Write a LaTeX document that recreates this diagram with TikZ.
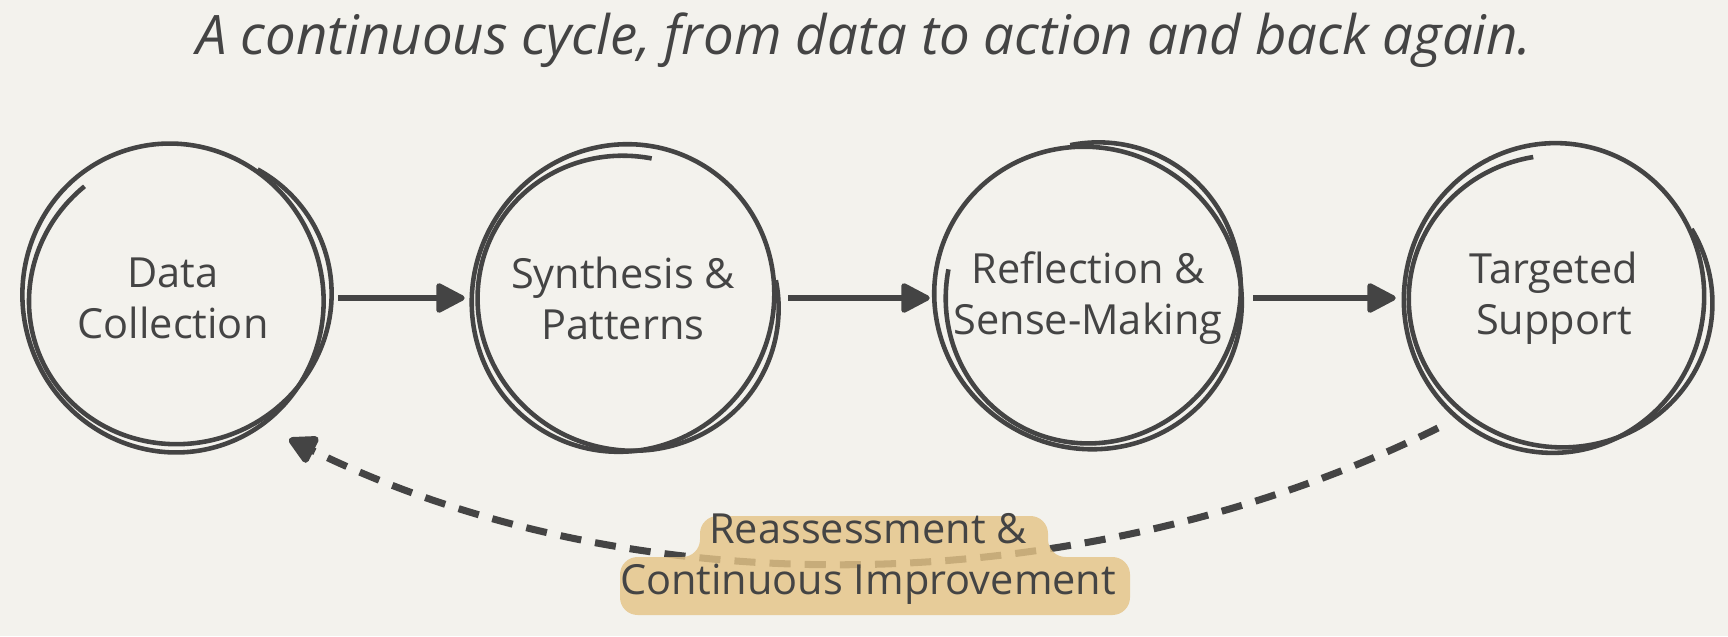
\documentclass[tikz,border=0pt]{standalone}
\usepackage{fontspec}
\setmainfont{Open Sans}
\usetikzlibrary{arrows.meta}
\definecolor{bg}{HTML}{F3F2ED}
\definecolor{ink}{HTML}{444444}
\definecolor{tag}{HTML}{E5C487}
\begin{document}
\begin{tikzpicture}[x=0.01cm,y=0.01cm,
  sk/.style={draw=ink,line width=1.3pt},
  lbl/.style={font=\fontsize{11.8}{14.5}\selectfont,text=ink,align=center},
  arr/.style={draw=ink,line width=1.5pt,shorten <=3pt,shorten >=1pt,-{Stealth[length=9pt,width=9pt,inset=0pt,round]}}]
\fill[bg] (0,0) rectangle (1728,636);
\useasboundingbox (0,0) rectangle (1728,636);
\node[font=\fontsize{15.5}{18}\selectfont\itshape,text=ink] (title) at (864,596) {A continuous cycle, from data to action and back again.};
\foreach \n/\x/\t/\r in {a/173/{Data\\Collection}/20,b/623/{Synthesis \&\\Patterns}/-30,c/1088/{Reflection \&\\Sense-Making}/60,d/1554/{Targeted\\Support}/-10}{
  \node[lbl,circle,minimum size=3.08cm,inner sep=0] (\n) at (\x,338) {\t};
  \draw[sk,rotate around={\r:(\x,338)}] (\x,338) ellipse [x radius=150,y radius=155];
  \draw[sk,rotate around={\r:(\x,338)}] (\x+5,336) ++(110:146) arc[start angle=110,end angle=400,x radius=152,y radius=146];
}
\draw[arr] (a) -- (b);
\draw[arr] (b) -- (c);
\draw[arr] (c) -- (d);
\coordinate (s) at (1438,208);
\coordinate (e) at (289,197);
\draw[draw=ink,line width=2pt,dash pattern=on 6pt off 4pt,-{Stealth[length=9pt,width=9pt,inset=0pt,round]}]
  (s) .. controls (1100,40) and (650,20) .. (e);
\fill[tag,opacity=0.82,rounded corners=5] (620,21) -- (1130,21) -- (1130,79) -- (1048,79) -- (1048,120) -- (700,120) -- (700,79) -- (620,79) -- cycle;
\node[lbl,inner sep=0] (lab) at (868,77) {Reassessment \&\\Continuous Improvement};
\end{tikzpicture}
\end{document}
